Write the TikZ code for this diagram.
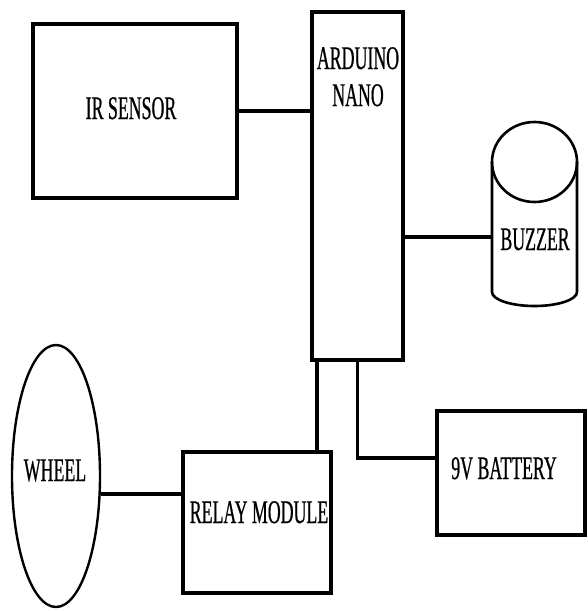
\documentclass[tikz,border=0pt]{standalone}
\usepackage{fontspec}
\usetikzlibrary{shapes.geometric}
\newfontfamily\narrowfont[FakeStretch=0.54,FakeBold=0.6]{Liberation Serif}
\tikzset{
  blk/.style={draw, line width=3.2pt, rectangle, minimum width=#1},
  wire/.style={line width=3.6pt},
  txt/.style={font=\narrowfont\fontsize{33}{37}\selectfont, inner sep=0pt, anchor=base, align=center}
}
\begin{document}
\begin{tikzpicture}[x=1pt,y=-1pt]
\useasboundingbox (0,0) rectangle (587,611);
%

% blocks
\node[blk=204pt, minimum height=174pt] (ir) at (135,111) {};
\node[txt] (irtext) at (131,119) {IR SENSOR};

\node[blk=91pt, minimum height=348pt] (arduino) at (357.5,186) {};
\node[txt] (ardtext) at (358,106) {ARDUINO\\NANO};

\node[blk=148pt, minimum height=141pt] (relay) at (257,522.5) {};
\node[txt] (relaytext) at (259,523) {RELAY MODULE};

\node[blk=148pt, minimum height=124pt] (battery) at (511,473) {};
\node[txt] (battext) at (504,479) {9V BATTERY};

\node[draw, ellipse, line width=2.4pt, minimum width=88pt, minimum height=262pt] (wheel) at (56,476) {};
\node[txt] (wheeltext) at (55,481) {WHEEL};

% buzzer
\draw[line width=2.6pt] (534.5,162) ellipse [x radius=42.5, y radius=40];
\draw[line width=2.6pt] (492,162) -- (492,292) arc[start angle=180, end angle=0, x radius=42.5, y radius=14] -- (577,162);
\node[txt] (buzzer) at (535,250) {BUZZER};
\coordinate (bz) at (492,237);

% wires
\draw[wire] (ir.east) -- (ir.east -| arduino.west);
\draw[wire] (bz) -- (bz -| arduino.east);
\coordinate (rw) at (183,494);
\draw[wire] (rw) -- (rw -| wheel.east);
\coordinate (ar) at ([xshift=-40.5pt]arduino.south);
\draw[wire] (ar) -- (ar |- relay.north);
\draw[wire] (arduino.south) |- ([yshift=15pt]battery.west);

\end{tikzpicture}
\end{document}
